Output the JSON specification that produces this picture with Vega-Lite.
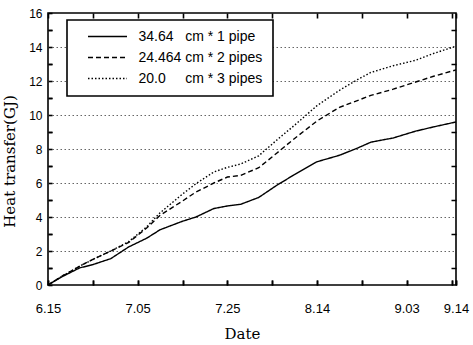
{
  "$schema": "https://vega.github.io/schema/vega-lite/v6.json",
  "width": 408,
  "height": 272,
  "autosize": {"type": "none"},
  "padding": {"left": 48, "top": 13, "right": 17, "bottom": 60},
  "background": "white",
  "config": {"view": {"stroke": "black", "strokeWidth": 1.6}, "font": "Liberation Sans", "legend": {"strokeWidth": 1.6}},
  "data": {
    "values": [
      {"date": "2005-06-15", "series": "34.64\u00a0\u00a0\u00a0cm * 1 pipe", "value": 0},
      {"date": "2005-06-18", "series": "34.64\u00a0\u00a0\u00a0cm * 1 pipe", "value": 0.47},
      {"date": "2005-06-22", "series": "34.64\u00a0\u00a0\u00a0cm * 1 pipe", "value": 1.0},
      {"date": "2005-06-25", "series": "34.64\u00a0\u00a0\u00a0cm * 1 pipe", "value": 1.2},
      {"date": "2005-06-29", "series": "34.64\u00a0\u00a0\u00a0cm * 1 pipe", "value": 1.55},
      {"date": "2005-07-03", "series": "34.64\u00a0\u00a0\u00a0cm * 1 pipe", "value": 2.24},
      {"date": "2005-07-07", "series": "34.64\u00a0\u00a0\u00a0cm * 1 pipe", "value": 2.75},
      {"date": "2005-07-10", "series": "34.64\u00a0\u00a0\u00a0cm * 1 pipe", "value": 3.25},
      {"date": "2005-07-15", "series": "34.64\u00a0\u00a0\u00a0cm * 1 pipe", "value": 3.75},
      {"date": "2005-07-18", "series": "34.64\u00a0\u00a0\u00a0cm * 1 pipe", "value": 4.0},
      {"date": "2005-07-22", "series": "34.64\u00a0\u00a0\u00a0cm * 1 pipe", "value": 4.5},
      {"date": "2005-07-25", "series": "34.64\u00a0\u00a0\u00a0cm * 1 pipe", "value": 4.65},
      {"date": "2005-07-28", "series": "34.64\u00a0\u00a0\u00a0cm * 1 pipe", "value": 4.75},
      {"date": "2005-08-01", "series": "34.64\u00a0\u00a0\u00a0cm * 1 pipe", "value": 5.15},
      {"date": "2005-08-05", "series": "34.64\u00a0\u00a0\u00a0cm * 1 pipe", "value": 5.86},
      {"date": "2005-08-09", "series": "34.64\u00a0\u00a0\u00a0cm * 1 pipe", "value": 6.5},
      {"date": "2005-08-14", "series": "34.64\u00a0\u00a0\u00a0cm * 1 pipe", "value": 7.25},
      {"date": "2005-08-19", "series": "34.64\u00a0\u00a0\u00a0cm * 1 pipe", "value": 7.63},
      {"date": "2005-08-23", "series": "34.64\u00a0\u00a0\u00a0cm * 1 pipe", "value": 8.05},
      {"date": "2005-08-26", "series": "34.64\u00a0\u00a0\u00a0cm * 1 pipe", "value": 8.4},
      {"date": "2005-08-31", "series": "34.64\u00a0\u00a0\u00a0cm * 1 pipe", "value": 8.65},
      {"date": "2005-09-05", "series": "34.64\u00a0\u00a0\u00a0cm * 1 pipe", "value": 9.05},
      {"date": "2005-09-09", "series": "34.64\u00a0\u00a0\u00a0cm * 1 pipe", "value": 9.3},
      {"date": "2005-09-14", "series": "34.64\u00a0\u00a0\u00a0cm * 1 pipe", "value": 9.59},
      {"date": "2005-06-15", "series": "24.464 cm * 2 pipes", "value": 0},
      {"date": "2005-06-18", "series": "24.464 cm * 2 pipes", "value": 0.5},
      {"date": "2005-06-22", "series": "24.464 cm * 2 pipes", "value": 1.1},
      {"date": "2005-06-25", "series": "24.464 cm * 2 pipes", "value": 1.5},
      {"date": "2005-06-29", "series": "24.464 cm * 2 pipes", "value": 2.0},
      {"date": "2005-07-03", "series": "24.464 cm * 2 pipes", "value": 2.5},
      {"date": "2005-07-07", "series": "24.464 cm * 2 pipes", "value": 3.35},
      {"date": "2005-07-10", "series": "24.464 cm * 2 pipes", "value": 4.1},
      {"date": "2005-07-15", "series": "24.464 cm * 2 pipes", "value": 4.94},
      {"date": "2005-07-18", "series": "24.464 cm * 2 pipes", "value": 5.47},
      {"date": "2005-07-22", "series": "24.464 cm * 2 pipes", "value": 6.0},
      {"date": "2005-07-25", "series": "24.464 cm * 2 pipes", "value": 6.35},
      {"date": "2005-07-28", "series": "24.464 cm * 2 pipes", "value": 6.45},
      {"date": "2005-08-01", "series": "24.464 cm * 2 pipes", "value": 6.9},
      {"date": "2005-08-05", "series": "24.464 cm * 2 pipes", "value": 7.75},
      {"date": "2005-08-09", "series": "24.464 cm * 2 pipes", "value": 8.62},
      {"date": "2005-08-14", "series": "24.464 cm * 2 pipes", "value": 9.65},
      {"date": "2005-08-19", "series": "24.464 cm * 2 pipes", "value": 10.45},
      {"date": "2005-08-23", "series": "24.464 cm * 2 pipes", "value": 10.85},
      {"date": "2005-08-26", "series": "24.464 cm * 2 pipes", "value": 11.15},
      {"date": "2005-08-31", "series": "24.464 cm * 2 pipes", "value": 11.52},
      {"date": "2005-09-05", "series": "24.464 cm * 2 pipes", "value": 11.94},
      {"date": "2005-09-09", "series": "24.464 cm * 2 pipes", "value": 12.28},
      {"date": "2005-09-14", "series": "24.464 cm * 2 pipes", "value": 12.65},
      {"date": "2005-06-15", "series": "20.0\u00a0\u00a0\u00a0\u00a0\u00a0cm * 3 pipes", "value": 0},
      {"date": "2005-06-18", "series": "20.0\u00a0\u00a0\u00a0\u00a0\u00a0cm * 3 pipes", "value": 0.5},
      {"date": "2005-06-22", "series": "20.0\u00a0\u00a0\u00a0\u00a0\u00a0cm * 3 pipes", "value": 1.1},
      {"date": "2005-06-25", "series": "20.0\u00a0\u00a0\u00a0\u00a0\u00a0cm * 3 pipes", "value": 1.5},
      {"date": "2005-06-29", "series": "20.0\u00a0\u00a0\u00a0\u00a0\u00a0cm * 3 pipes", "value": 2.0},
      {"date": "2005-07-03", "series": "20.0\u00a0\u00a0\u00a0\u00a0\u00a0cm * 3 pipes", "value": 2.55},
      {"date": "2005-07-07", "series": "20.0\u00a0\u00a0\u00a0\u00a0\u00a0cm * 3 pipes", "value": 3.42},
      {"date": "2005-07-10", "series": "20.0\u00a0\u00a0\u00a0\u00a0\u00a0cm * 3 pipes", "value": 4.25},
      {"date": "2005-07-15", "series": "20.0\u00a0\u00a0\u00a0\u00a0\u00a0cm * 3 pipes", "value": 5.35},
      {"date": "2005-07-18", "series": "20.0\u00a0\u00a0\u00a0\u00a0\u00a0cm * 3 pipes", "value": 5.96},
      {"date": "2005-07-22", "series": "20.0\u00a0\u00a0\u00a0\u00a0\u00a0cm * 3 pipes", "value": 6.65},
      {"date": "2005-07-25", "series": "20.0\u00a0\u00a0\u00a0\u00a0\u00a0cm * 3 pipes", "value": 6.92},
      {"date": "2005-07-28", "series": "20.0\u00a0\u00a0\u00a0\u00a0\u00a0cm * 3 pipes", "value": 7.12},
      {"date": "2005-08-01", "series": "20.0\u00a0\u00a0\u00a0\u00a0\u00a0cm * 3 pipes", "value": 7.6},
      {"date": "2005-08-05", "series": "20.0\u00a0\u00a0\u00a0\u00a0\u00a0cm * 3 pipes", "value": 8.52},
      {"date": "2005-08-09", "series": "20.0\u00a0\u00a0\u00a0\u00a0\u00a0cm * 3 pipes", "value": 9.4},
      {"date": "2005-08-14", "series": "20.0\u00a0\u00a0\u00a0\u00a0\u00a0cm * 3 pipes", "value": 10.55},
      {"date": "2005-08-19", "series": "20.0\u00a0\u00a0\u00a0\u00a0\u00a0cm * 3 pipes", "value": 11.45},
      {"date": "2005-08-23", "series": "20.0\u00a0\u00a0\u00a0\u00a0\u00a0cm * 3 pipes", "value": 12.08},
      {"date": "2005-08-26", "series": "20.0\u00a0\u00a0\u00a0\u00a0\u00a0cm * 3 pipes", "value": 12.5},
      {"date": "2005-08-31", "series": "20.0\u00a0\u00a0\u00a0\u00a0\u00a0cm * 3 pipes", "value": 12.9},
      {"date": "2005-09-05", "series": "20.0\u00a0\u00a0\u00a0\u00a0\u00a0cm * 3 pipes", "value": 13.22},
      {"date": "2005-09-09", "series": "20.0\u00a0\u00a0\u00a0\u00a0\u00a0cm * 3 pipes", "value": 13.62},
      {"date": "2005-09-14", "series": "20.0\u00a0\u00a0\u00a0\u00a0\u00a0cm * 3 pipes", "value": 14.05}
    ]
  },
  "mark": {"type": "line", "color": "black", "strokeWidth": 1.4},
  "encoding": {
    "x": {
      "field": "date", "type": "temporal",
      "scale": {"type": "utc", "domain": [{"year": 2005, "month": 6, "date": 15, "utc": true}, {"year": 2005, "month": 9, "date": 14, "utc": true}]},
      "axis": {
        "orient": "bottom", "offset": -5,
        "values": [
          {"year": 2005, "month": 6, "date": 15, "utc": true},
          {"year": 2005, "month": 6, "date": 25, "utc": true},
          {"year": 2005, "month": 7, "date": 5, "utc": true},
          {"year": 2005, "month": 7, "date": 15, "utc": true},
          {"year": 2005, "month": 7, "date": 25, "utc": true},
          {"year": 2005, "month": 8, "date": 4, "utc": true},
          {"year": 2005, "month": 8, "date": 14, "utc": true},
          {"year": 2005, "month": 8, "date": 24, "utc": true},
          {"year": 2005, "month": 9, "date": 3, "utc": true},
          {"year": 2005, "month": 9, "date": 13, "utc": true},
          {"year": 2005, "month": 9, "date": 14, "utc": true}
        ],
        "labelExpr": "indexof(['6.15','7.05','7.25','8.14','9.03','9.14'], utcFormat(datum.value, '%-m.%d')) >= 0 ? utcFormat(datum.value, '%-m.%d') : ''",
        "ticks": true, "tickSize": 5, "tickColor": "black", "tickWidth": 1.6,
        "grid": true, "gridColor": "black", "gridWidth": 1.6, "gridDash": [5, 262, 5, 1000],
        "domain": false,
        "labelFont": "Liberation Sans", "labelFontSize": 13, "labelColor": "black",
        "labelPadding": 17, "labelFlush": false, "labelOverlap": false,
        "title": "Date", "titleFont": "DejaVu Serif", "titleFontSize": 15, "titleFontWeight": "normal", "titleColor": "black",
        "titleX": 194, "titleY": 58, "titleBaseline": "alphabetic"
      }
    },
    "y": {
      "field": "value", "type": "quantitative",
      "scale": {"domain": [0, 16], "nice": false},
      "axis": {
        "orient": "left", "offset": -4,
        "values": [0, 1, 2, 3, 4, 5, 6, 7, 8, 9, 10, 11, 12, 13, 14, 15, 16],
        "labelExpr": "datum.value % 2 == 0 ? datum.label : ''",
        "ticks": true, "tickSize": 4, "tickColor": "black", "tickWidth": 1.6,
        "grid": true,
        "gridColor": {"condition": {"test": "datum.value % 2 == 1", "value": "black"}, "value": "#666666"},
        "gridDash": {"condition": {"test": "datum.value % 2 == 1", "value": [4, 399, 5, 1000]}, "value": [1.5, 2.5]},
        "gridWidth": {"condition": {"test": "datum.value % 2 == 1", "value": 1.6}, "value": 1},
        "gridOpacity": {"condition": {"test": "datum.value == 0 || datum.value == 16", "value": 0}, "value": 1},
        "domain": false,
        "labelFont": "Liberation Sans", "labelFontSize": 12, "labelColor": "black",
        "labelPadding": 6, "labelFlush": false, "labelOverlap": false,
        "title": "Heat transfer(GJ)", "titleFont": "DejaVu Serif", "titleFontSize": 15, "titleFontWeight": "normal", "titleColor": "black",
        "titleX": -38, "titleY": 148, "titleBaseline": "alphabetic", "titleAngle": -90, "titleAlign": "center"
      }
    },
    "strokeDash": {
      "field": "series", "type": "nominal",
      "scale": {
        "domain": ["34.64\u00a0\u00a0\u00a0cm * 1 pipe", "24.464 cm * 2 pipes", "20.0\u00a0\u00a0\u00a0\u00a0\u00a0cm * 3 pipes"],
        "range": [[1, 0], [5, 3], [1.5, 2]]
      },
      "legend": {
        "orient": "none", "legendX": 19, "legendY": 7,
        "title": null,
        "symbolType": "stroke", "symbolSize": 1521, "symbolStrokeWidth": 1.4, "symbolStrokeColor": "black",
        "clipHeight": 13, "rowPadding": 6,
        "symbolOffset": 10, "labelOffset": 10.5,
        "labelFont": "Liberation Sans", "labelFontSize": 14, "labelColor": "black",
        "labelLimit": 400,
        "labelExpr": "datum.label + '\u00a0\u00a0\u00a0'",
        "padding": 10, "strokeColor": "black", "fillColor": "white"
      }
    }
  }
}
